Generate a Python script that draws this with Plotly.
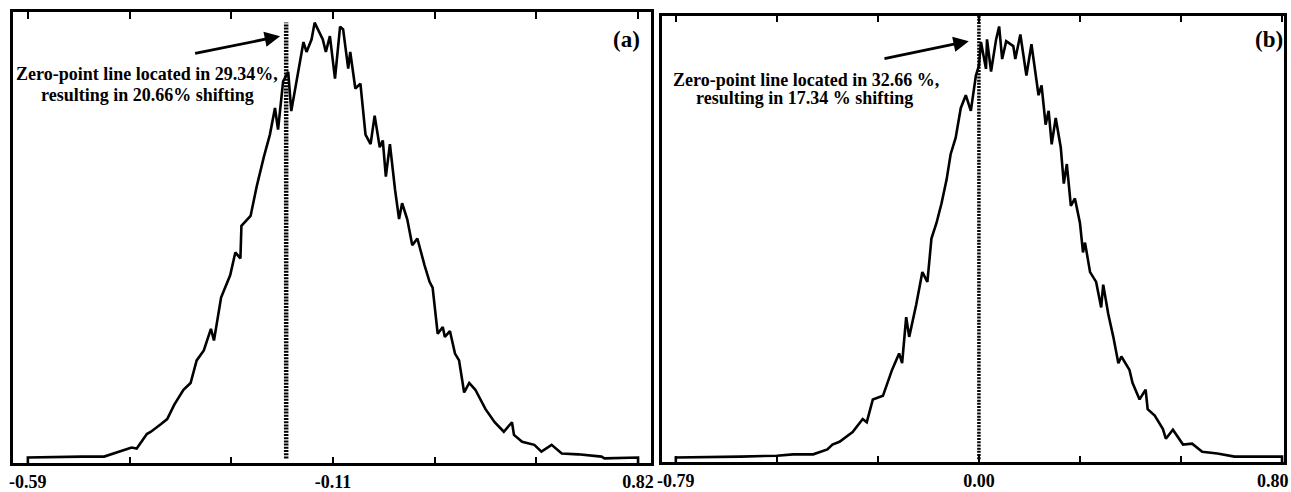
import plotly.graph_objects as go

W, H = 1291, 492

# tick positions (axis drawn in tick-index units, 7 ticks) and labels
tick_pos = [0, 1, 2, 3, 4, 5, 6]
tick_text_a = ["-0.59", "", "", "-0.11", "", "", "0.82"]
tick_text_b = ["-0.79", "", "", "0.00", "", "", ""]
last_label_b = "0.80"   # drawn next to the last tick (it touches the page edge)

# panel (a) distribution curve (x in tick units, y in % of plot height)
a_x = [0, 0, 0.53, 0.75, 1.02, 1.07, 1.17, 1.21, 1.31, 1.37, 1.44, 1.53, 1.60, 1.66,
       1.73, 1.80, 1.83, 1.90, 1.99, 2.04, 2.09, 2.10, 2.19, 2.25, 2.32, 2.38, 2.43,
       2.46, 2.51, 2.56, 2.59, 2.64, 2.68, 2.71, 2.74, 2.79, 2.82, 2.87, 2.90, 2.93,
       2.97, 3.02, 3.07, 3.10, 3.15, 3.17, 3.22, 3.27, 3.32, 3.37, 3.41, 3.46, 3.49,
       3.52, 3.56, 3.61, 3.65, 3.68, 3.73, 3.78, 3.83, 3.90, 3.95, 3.98, 4.03, 4.08,
       4.10, 4.15, 4.20, 4.24, 4.29, 4.34, 4.40, 4.50, 4.59, 4.68, 4.76, 4.78, 4.86,
       4.98, 5.05, 5.15, 5.25, 5.41, 5.64, 5.67, 5.96, 6.0, 6.0]
a_y = [0, 1.3, 1.5, 1.5, 3.5, 3.3, 6.5, 7.0, 8.7, 9.8, 13.0, 16.3, 17.8, 22.8,
       25.0, 29.8, 27.2, 36.7, 41.7, 46.7, 45.4, 52.6, 54.8, 61.3, 67.8, 72.8, 78.7,
       73.9, 84.6, 86.7, 78.0, 84.6, 90.2, 93.3, 91.1, 93.9, 97.6, 95.4, 93.9, 91.1,
       94.6, 85.2, 96.7, 96.1, 87.4, 91.1, 83.0, 84.1, 72.8, 70.7, 77.0, 70.0, 71.5,
       63.5, 70.7, 60.7, 54.1, 57.6, 54.1, 48.3, 49.8, 43.9, 40.2, 38.9, 28.7, 30.2,
       28.0, 29.3, 24.3, 22.8, 15.7, 17.8, 16.3, 12.0, 9.1, 7.0, 9.1, 6.3, 4.8,
       4.1, 2.6, 4.1, 2.2, 2.0, 1.5, 1.1, 1.3, 1.3, 0]

# panel (b) distribution curve
b_x = [0, 0, 0.64, 1.00, 1.16, 1.36, 1.50, 1.55, 1.62, 1.72, 1.75, 1.85, 1.89, 1.95,
       2.05, 2.14, 2.21, 2.24, 2.28, 2.31, 2.38, 2.44, 2.49, 2.53, 2.58, 2.63, 2.68,
       2.72, 2.77, 2.82, 2.87, 2.92, 2.97, 3.00, 3.02, 3.07, 3.08, 3.12, 3.17, 3.20,
       3.23, 3.27, 3.34, 3.36, 3.41, 3.47, 3.52, 3.59, 3.62, 3.66, 3.69, 3.72, 3.76,
       3.81, 3.84, 3.87, 3.91, 3.95, 4.00, 4.03, 4.05, 4.10, 4.16, 4.21, 4.23, 4.28,
       4.33, 4.38, 4.41, 4.49, 4.52, 4.59, 4.65, 4.67, 4.74, 4.82, 4.85, 4.92, 5.02,
       5.11, 5.21, 5.36, 5.53, 5.75, 5.97, 6.0, 6.0]
b_y = [0, 1.1, 1.3, 1.5, 1.8, 1.8, 2.9, 4.0, 4.6, 6.2, 6.8, 9.7, 9.0, 14.1,
       14.9, 20.7, 24.4, 22.2, 32.5, 28.1, 35.4, 42.6, 40.4, 50.1, 53.6, 58.0, 63.3,
       69.0, 72.7, 79.3, 82.2, 78.7, 86.6, 88.8, 94.1, 88.1, 94.7, 87.5, 94.7, 97.6,
       90.3, 94.3, 93.2, 90.3, 95.8, 86.6, 93.6, 82.2, 84.4, 75.6, 78.7, 71.2, 77.1,
       70.5, 62.4, 66.8, 57.4, 59.1, 53.6, 47.0, 49.2, 42.6, 40.4, 34.7, 39.8, 33.2,
       28.1, 22.2, 23.7, 20.7, 17.8, 14.1, 16.3, 11.9, 10.5, 7.5, 5.3, 7.3, 4.0,
       4.2, 2.4, 2.0, 1.3, 1.3, 1.3, 1.3, 0]

# zero-point lines
zero_a = 2.54
zero_b = 3.0

FONT = "Liberation Serif"

fig = go.Figure()
fig.add_trace(go.Scatter(x=a_x, y=a_y, mode="lines",
                         line=dict(color="black", width=2.6), xaxis="x", yaxis="y",
                         showlegend=False, hoverinfo="skip"))
fig.add_trace(go.Scatter(x=[zero_a, zero_a], y=[1.1, 97.6], mode="lines",
                         line=dict(color="black", width=4.5, dash="2px,1.2px"),
                         xaxis="x", yaxis="y", showlegend=False, hoverinfo="skip"))
fig.add_trace(go.Scatter(x=b_x, y=b_y, mode="lines",
                         line=dict(color="black", width=2.6), xaxis="x2", yaxis="y2",
                         showlegend=False, hoverinfo="skip"))
fig.add_trace(go.Scatter(x=[zero_b, zero_b], y=[0.7, 100], mode="lines",
                         line=dict(color="black", width=3.5, dash="2px,1.2px"),
                         xaxis="x2", yaxis="y2", showlegend=False, hoverinfo="skip"))

tickfont = dict(family=FONT, size=18, color="black", weight=700)
common_x = dict(tickmode="array", tickvals=tick_pos, ticks="inside", mirror="ticks",
                ticklen=7, tickwidth=2, tickcolor="black", showline=True,
                linewidth=2.5, linecolor="black", showgrid=False, zeroline=False,
                tickfont=tickfont)
common_y = dict(showline=True, mirror=True, linewidth=2.5, linecolor="black",
                showticklabels=False, ticks="", showgrid=False, zeroline=False,
                range=[0, 100])

fig.update_layout(
    width=W, height=H, margin=dict(l=0, r=0, t=0, b=0),
    paper_bgcolor="white", plot_bgcolor="white", showlegend=False,
    xaxis=dict(domain=[8 / W, 650 / W], range=[-0.1466, 6.127], anchor="y",
               ticktext=tick_text_a, **common_x),
    yaxis=dict(domain=[20 / H, 480 / H], anchor="x", **common_y),
    xaxis2=dict(domain=[661 / W, 1287 / W], range=[-0.1377, 6.0197], anchor="y2",
                ticktext=tick_text_b, **common_x),
    yaxis2=dict(domain=[21 / H, 476 / H], anchor="x2", **common_y),
)

# last tick label of panel (b), nudged left so it stays on the page
fig.add_annotation(text=last_label_b, xref="x2", yref="paper", x=tick_pos[-1],
                   y=1 - 490 / H, xshift=-9, xanchor="center", yanchor="middle",
                   showarrow=False, font=tickfont)

tf = dict(family=FONT, size=18, color="black", weight=700)
ann = [
    dict(text="Zero-point line located in 29.34%,", x=143 / W, y=1 - 75 / H),
    dict(text="resulting in 20.66% shifting", x=143 / W, y=1 - 97 / H),
    dict(text="Zero-point line located in 32.66 %,", x=806 / W, y=1 - 82 / H),
    dict(text="resulting in 17.34 % shifting", x=804 / W, y=1 - 100 / H),
]
for a in ann:
    fig.add_annotation(xref="paper", yref="paper", xanchor="center", yanchor="middle",
                       showarrow=False, font=tf, **a)

lf = dict(family=FONT, size=23, color="black", weight=700)
fig.add_annotation(text="(a)", xref="paper", yref="paper", x=625 / W, y=1 - 40 / H,
                   xanchor="center", yanchor="middle", showarrow=False, font=lf)
fig.add_annotation(text="(b)", xref="paper", yref="paper", x=1272 / W, y=1 - 40 / H,
                   xanchor="center", yanchor="middle", showarrow=False, font=lf)

# arrows
fig.add_annotation(text="", xref="x", yref="y", axref="x", ayref="y",
                   x=2.48, y=94.6, ax=1.63, ay=90.7, showarrow=True,
                   arrowhead=2, arrowwidth=2.8, arrowsize=1.1, arrowcolor="black")
fig.add_annotation(text="", xref="x2", yref="y2", axref="x2", ayref="y2",
                   x=2.90, y=94.3, ax=2.05, ay=90.3, showarrow=True,
                   arrowhead=2, arrowwidth=2.8, arrowsize=1.1, arrowcolor="black")

fig.write_html("out.html")
